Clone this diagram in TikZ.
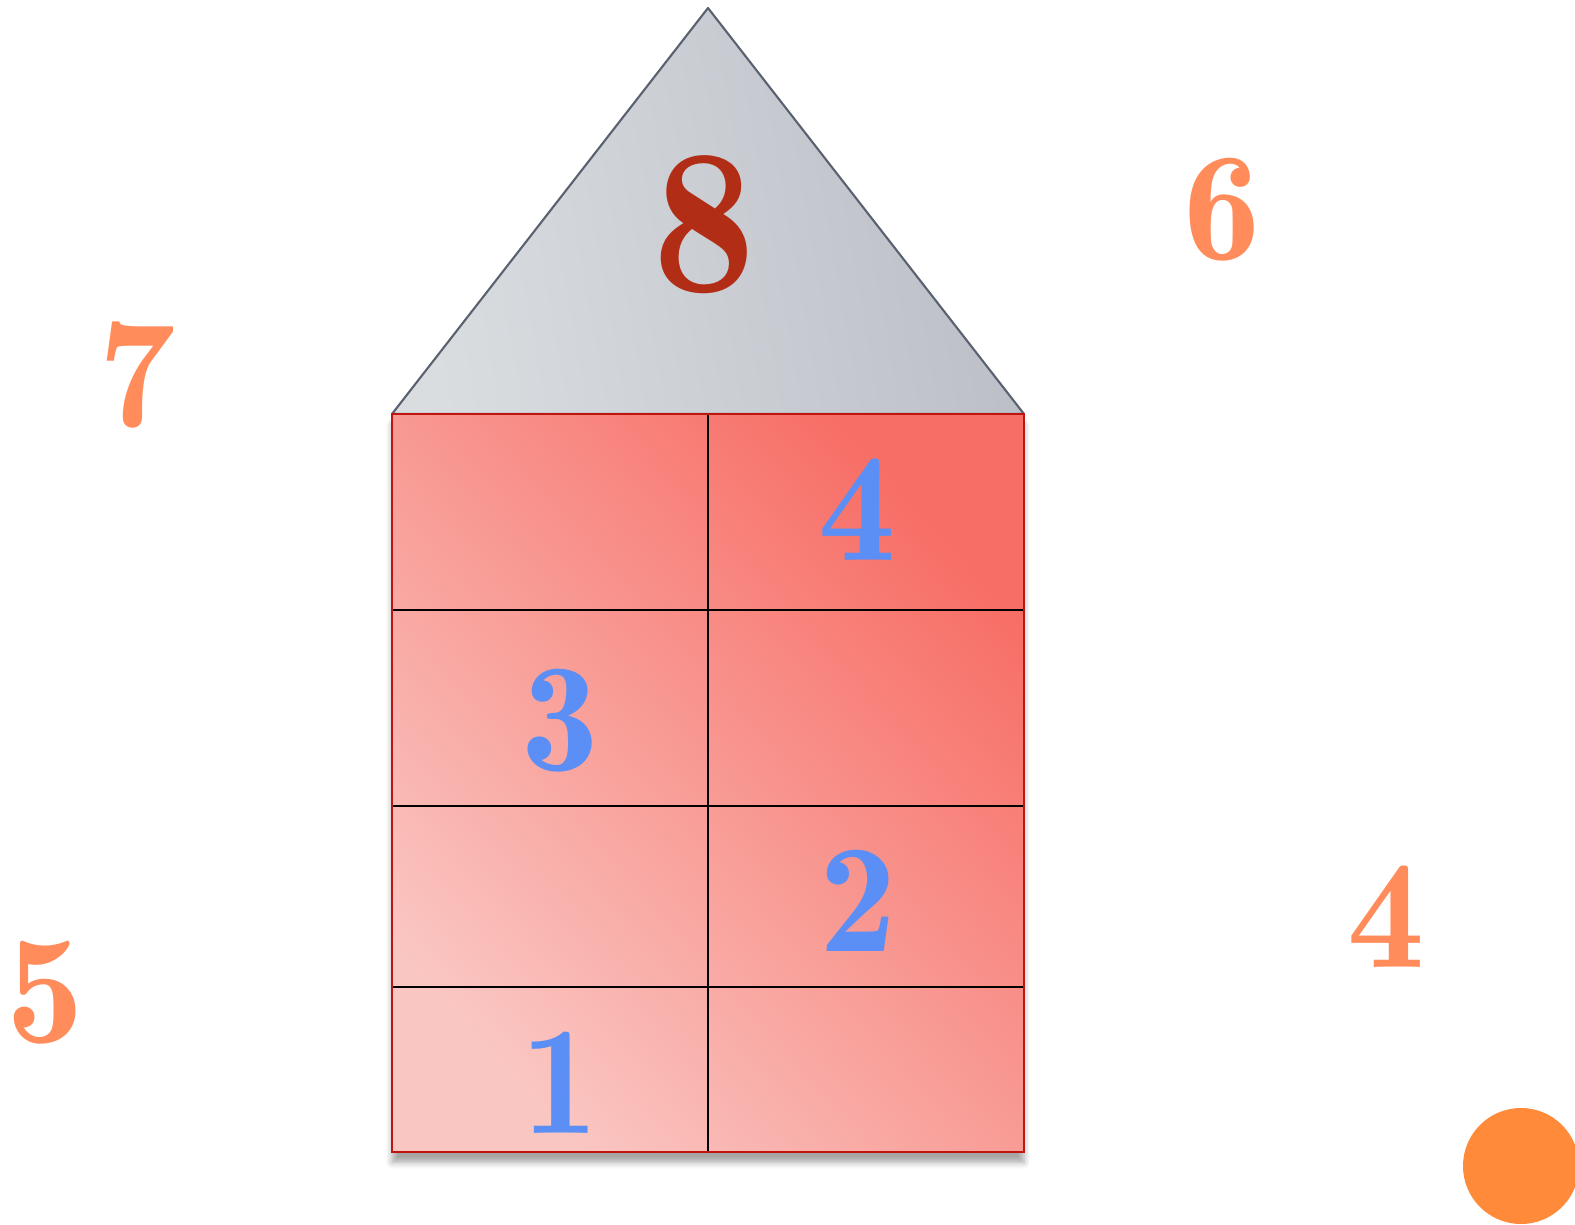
\documentclass[tikz,border=0pt]{standalone}
\usepackage{fontspec}
\newfontfamily\demiface{lmromandemi10-regular.otf}
\usetikzlibrary{shadows.blur}
\definecolor{numorange}{RGB}{255,140,90}
\definecolor{numblue}{RGB}{91,143,245}
\definecolor{roofred}{RGB}{178,45,21}
\definecolor{dotorange}{RGB}{255,138,58}
\definecolor{roofdark}{RGB}{187,190,198}
\definecolor{roofpale}{RGB}{218,221,224}
\definecolor{roofline}{RGB}{90,98,112}
\definecolor{wallpale}{RGB}{250,198,194}
\definecolor{wallmid}{RGB}{246,166,161}
\definecolor{walldark}{RGB}{247,110,102}
\definecolor{wallline}{RGB}{192,20,15}
\begin{document}
\begin{tikzpicture}[x=0.01cm,y=-0.01cm,
  outnum/.style={inner sep=0pt, text=numorange, font=\fontsize{44}{44}\selectfont\demiface},
  cellnum/.style={inner sep=0pt, text=numblue, font=\fontsize{44}{44}\selectfont\demiface},
  gridline/.style={black, line width=0.6pt}]
\useasboundingbox (0,0) rectangle (1575,1225);

% Roof
\shade[left color=roofpale, right color=roofdark, shading angle=100,
  draw=roofline, line width=0.6pt, line join=round]
  (392,414) -- (708,8) -- (1024,414) -- cycle;
\node[inner sep=0pt, text=roofred, font=\fontsize{59}{59}\selectfont\demiface] (top) at (704,225) {8};

% House body
\shade[top color=walldark, middle color=wallmid, bottom color=wallpale, shading angle=-48,
  blur shadow={shadow xshift=0pt, shadow yshift=-3pt, shadow blur steps=6, shadow opacity=35}]
  (392,414) rectangle (1024,1152);
\draw[gridline] (708,414) -- (708,1152);
\foreach \y in {610,806,987}
  \draw[gridline] (392,\y) -- (1024,\y);
\draw[wallline, line width=0.8pt] (392,414) rectangle (1024,1152);

% Numbers in the cells
\node[cellnum] (cellfour) at (857,510) {4};
\node[cellnum] (cellthree) at (560,721) {3};
\node[cellnum] (celltwo) at (858,901) {2};
\node[cellnum] (cellone) at (560,1083) {1};

% Numbers outside
\node[outnum] (outsix) at (1222,210) {6};
\node[outnum] (outseven) at (137,375) {7};
\node[outnum] (outfive) at (45,993) {5};
\node[outnum] (outfour) at (1386,917) {4};

% Dot
\fill[dotorange] (1521,1166) circle (58);
\end{tikzpicture}
\end{document}
